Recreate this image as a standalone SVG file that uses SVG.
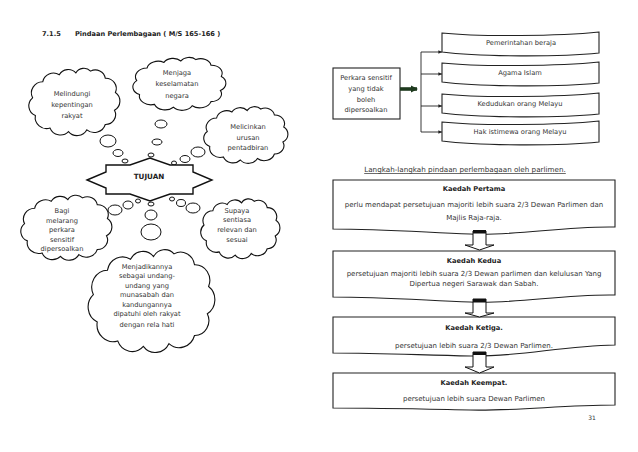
<svg xmlns="http://www.w3.org/2000/svg" xmlns:xlink="http://www.w3.org/1999/xlink" width="638" height="452" viewBox="0 0 638 452">
<style>
text{font-family:"DejaVu Sans","Liberation Sans",sans-serif;fill:#333;font-size:6.7px;text-anchor:middle}
.b{font-weight:bold;fill:#222}
.t{text-anchor:start;font-weight:bold;font-size:6.6px;fill:#222}
.k{font-size:7px}
.cl{fill:#fff;stroke:#111;stroke-width:1.1}
.bub{fill:#fff;stroke:#111;stroke-width:1}
.box{fill:#fff;stroke:#222;stroke-width:1.1}
.ln{fill:none;stroke:#222;stroke-width:0.9}
</style>
<defs>
<path id="cloud" vector-effect="non-scaling-stroke" d="M8,58 A12,12 0 0 1 5,38 A12.5,12.5 0 0 1 16,20 A12,12 0 0 1 34,12 A11,11 0 0 1 52,10 A10,10 0 0 1 68,8 A11,11 0 0 1 84,16 A11.5,11.5 0 0 1 95,32 A12,12 0 0 1 94,52 A11,11 0 0 1 84,68 A12.5,12.5 0 0 1 64,74 A12,12 0 0 1 44,76 A12,12 0 0 1 24,72 A12.5,12.5 0 0 1 8,58 Z"/>
<marker id="ah" viewBox="0 0 6 6" refX="6" refY="3" markerWidth="4" markerHeight="4" orient="auto"><path d="M0,0 L6,3 L0,6 Z" fill="#222"/></marker>
<marker id="ahg" viewBox="0 0 6 6" refX="5" refY="3" markerWidth="2" markerHeight="2.4" orient="auto"><path d="M0,0 L6,3 L0,6 Z" fill="#1e3a1e"/></marker>
</defs>
<rect width="638" height="452" fill="#fff"/>
<text class="t" x="42" y="36">7.1.5</text>
<text class="t" x="75" y="36">Pindaan Perlembagaan ( M/S 165-166 )</text>

<g id="cloud-melindungi"><use href="#cloud" class="cl" transform="translate(28,64) scale(0.92,0.89)"/>
<text x="72" y="95.5">Melindungi</text><text x="72" y="106.5">kepentingan</text><text x="72" y="117.5">rakyat</text></g>
<g id="cloud-menjaga"><use href="#cloud" class="cl" transform="translate(132,54) scale(0.94,0.70)"/>
<text x="177" y="74.5">Menjaga</text><text x="177" y="85.5">keselamatan</text><text x="177" y="97.5">negara</text></g>
<g id="cloud-melicinkan"><use href="#cloud" class="cl" transform="translate(203,103) scale(0.85,0.75)"/>
<text x="248" y="128.5">Melicinkan</text><text x="248" y="139.5">urusan</text><text x="248" y="149.5">pentadbiran</text></g>
<g id="cloud-bagi"><use href="#cloud" class="cl" transform="translate(20,191) scale(0.92,0.86)"/>
<text x="62" y="213">Bagi</text><text x="62" y="222.5">melarang</text><text x="62" y="232">perkara</text><text x="62" y="241.5">sensitif</text><text x="62" y="251">dipersoalkan</text></g>
<g id="cloud-supaya"><use href="#cloud" class="cl" transform="translate(200,195) scale(0.8,0.79)"/>
<text x="237" y="212.5">Supaya</text><text x="237" y="221.5">sentiasa</text><text x="237" y="231.5">relevan dan</text><text x="237" y="241.5">sesuai</text></g>
<g id="cloud-menjadikannya"><use href="#cloud" class="cl" transform="translate(87,243) scale(1.28,1.36)"/>
<text x="147" y="268.5">Menjadikannya</text><text x="147" y="278">sebagai undang-</text><text x="147" y="287.5">undang yang</text><text x="147" y="297">munasabah dan</text><text x="147" y="306.5">kandungannya</text><text x="147" y="316">dipatuhi oleh rakyat</text><text x="147" y="326.5">dengan rela hati</text></g>

<g id="bubbles">
<ellipse class="bub" cx="161" cy="124" rx="6" ry="4"/>
<ellipse class="bub" cx="157" cy="142" rx="5" ry="3"/>
<ellipse class="bub" cx="108" cy="141" rx="8" ry="6"/>
<ellipse class="bub" cx="118" cy="153" rx="5" ry="3.5"/>
<ellipse class="bub" cx="125" cy="161" rx="3" ry="2"/>
<ellipse class="bub" cx="151" cy="155" rx="3" ry="2"/>
<ellipse class="bub" cx="174" cy="163" rx="2.5" ry="2"/>
<ellipse class="bub" cx="185" cy="159" rx="5" ry="3.5"/>
<ellipse class="bub" cx="198" cy="152" rx="7" ry="5"/>
<ellipse class="bub" cx="138" cy="201" rx="2.5" ry="2"/>
<ellipse class="bub" cx="128" cy="205" rx="5" ry="4"/>
<ellipse class="bub" cx="115" cy="210" rx="7" ry="5"/>
<ellipse class="bub" cx="172" cy="199" rx="2.5" ry="2"/>
<ellipse class="bub" cx="181" cy="203" rx="4.5" ry="3.5"/>
<ellipse class="bub" cx="193" cy="208" rx="7" ry="5"/>
<ellipse class="bub" cx="151" cy="204" rx="3" ry="2"/>
<ellipse class="bub" cx="151" cy="215" rx="6" ry="5"/>
<ellipse class="bub" cx="151" cy="232" rx="10" ry="8"/>
</g>

<g id="tujuan">
<path d="M87,180 L106,172 L106,165 L130,165 L150,158 L170,165 L193,165 L193,172 L212,180 L193,188 L193,194 L170,194 L150,201 L130,194 L106,194 L106,188 Z" fill="#fff" stroke="#111" stroke-width="1.4"/>
<text class="b" x="149" y="179" style="font-size:7.2px">TUJUAN</text>
</g>

<g id="perkara"><rect class="box" x="333" y="68" width="67" height="51"/>
<text x="366" y="79.5">Perkara sensitif</text><text x="366" y="90.5">yang tidak</text><text x="366" y="101.5">boleh</text><text x="366" y="111.5">dipersoalkan</text></g>

<g id="pemerintahan"><path class="box" d="M442,33 C480,37 560,36 599,32 L599,53 C560,57 480,57 442,52 Z"/><text x="521" y="45">Pemerintahan beraja</text></g>
<g id="agama"><path class="box" d="M442,63 C480,67 560,66 599,62 L599,83 C560,87 480,87 442,82 Z"/><text x="520" y="74.5">Agama Islam</text></g>
<g id="kedudukan"><path class="box" d="M442,94 C480,98 560,97 599,93 L599,114 C560,118 480,118 442,113 Z"/><text x="520" y="105.5">Kedudukan orang Melayu</text></g>
<g id="hak"><path class="box" d="M442,122 C480,126 560,125 599,121 L599,142 C560,146 480,146 442,141 Z"/><text x="520" y="134">Hak istimewa orang Melayu</text></g>

<g id="connectors">
<line x1="400" y1="89" x2="417" y2="89" stroke="#1e3a1e" stroke-width="3.6" marker-end="url(#ahg)"/>
<line class="ln" x1="421" y1="52" x2="421" y2="132"/>
<line class="ln" x1="421" y1="52" x2="442" y2="52" marker-end="url(#ah)"/>
<line class="ln" x1="421" y1="74" x2="442" y2="74" marker-end="url(#ah)"/>
<line class="ln" x1="421" y1="106" x2="442" y2="106" marker-end="url(#ah)"/>
<line class="ln" x1="421" y1="132" x2="442" y2="132" marker-end="url(#ah)"/>
</g>

<text x="465" y="172" style="text-decoration:underline;font-size:7.2px">Langkah-langkah pindaan perlembagaan oleh parlimen.</text>

<g id="kaedah1"><path class="box" d="M333,180 L615,180 L615,227 C560,226 520,236 470,234 C420,232 380,229 333,229 Z"/>
<text class="b" x="474" y="190.5">Kaedah Pertama</text>
<text class="k" x="474" y="206.5">perlu mendapat persetujuan majoriti lebih suara 2/3 Dewan Parlimen dan</text>
<text class="k" x="474" y="219.5">Majlis Raja-raja.</text></g>

<g id="kaedah2"><path class="box" d="M333,251 L615,251 L615,295 C560,294 520,304 470,302 C420,300 380,297 333,297 Z"/>
<text class="b" x="474" y="262.5">Kaedah Kedua</text>
<text class="k" x="474" y="275.5">persetujuan majoriti lebih suara 2/3 Dewan parlimen dan kelulusan Yang</text>
<text class="k" x="474" y="285.5">Dipertua negeri Sarawak dan Sabah.</text></g>

<g id="kaedah3"><path class="box" d="M333,317 L615,317 L615,345 C560,346 520,357 470,356 C420,355 380,353 333,353 Z"/>
<text class="b" x="474" y="329.5">Kaedah Ketiga.</text>
<text class="k" x="474" y="347.5">persetujuan lebih suara 2/3 Dewan Parlimen.</text></g>

<g id="kaedah4"><path class="box" d="M333,373 L615,373 L615,405 C560,405 520,411 470,410 C420,409 380,408 333,408 Z"/>
<text class="b" x="474" y="384.5">Kaedah Keempat.</text>
<text class="k" x="474" y="400.5">persetujuan lebih suara Dewan Parlimen</text></g>

<g id="flow-arrows">
<path d="M473,231 L486,231 L486,245 L494,245 L479.5,250 L465,245 L473,245 Z" fill="#fff" stroke="#111" stroke-width="1"/>
<rect x="473" y="230" width="13" height="3.5" fill="#111"/>
<path d="M473,299 L486,299 L486,313 L494,313 L479.5,317 L465,313 L473,313 Z" fill="#fff" stroke="#111" stroke-width="1"/>
<rect x="473" y="299" width="13" height="3.5" fill="#111"/>
<path d="M473,352 L486,352 L486,367 L494,367 L479.5,373 L465,367 L473,367 Z" fill="#fff" stroke="#111" stroke-width="1"/>
<rect x="473" y="352" width="13" height="3" fill="#111"/>
</g>

<text x="592" y="420" style="font-size:6px">31</text>
</svg>
